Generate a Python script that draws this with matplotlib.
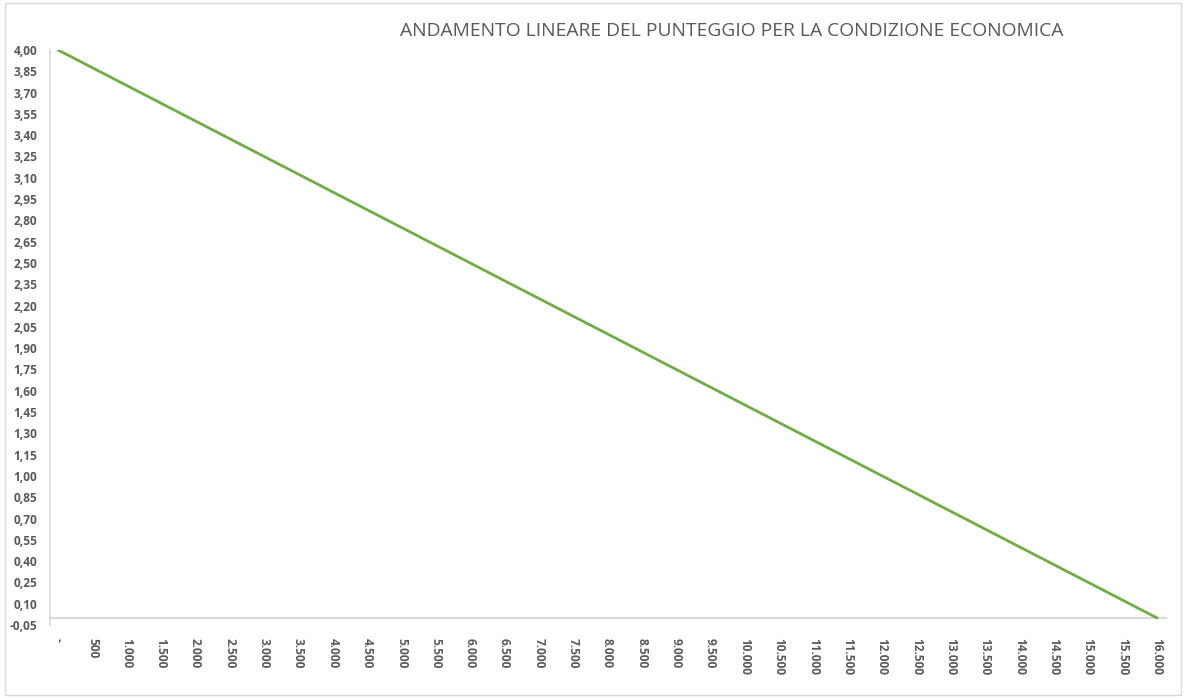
import matplotlib
matplotlib.use("Agg")
import matplotlib.pyplot as plt
from matplotlib.patches import Rectangle
import numpy as np

# Data
reddito = [0, 500, 1000, 1500, 2000, 2500, 3000, 3500, 4000, 4500, 5000, 5500,
           6000, 6500, 7000, 7500, 8000, 8500, 9000, 9500, 10000, 10500, 11000,
           11500, 12000, 12500, 13000, 13500, 14000, 14500, 15000, 15500, 16000]
punteggio = [4.000, 3.875, 3.750, 3.625, 3.500, 3.375, 3.250, 3.125, 3.000,
             2.875, 2.750, 2.625, 2.500, 2.375, 2.250, 2.125, 2.000, 1.875,
             1.750, 1.625, 1.500, 1.375, 1.250, 1.125, 1.000, 0.875, 0.750,
             0.625, 0.500, 0.375, 0.250, 0.125, 0.000]
x_labels = ["-", "500", "1.000", "1.500", "2.000", "2.500", "3.000", "3.500",
            "4.000", "4.500", "5.000", "5.500", "6.000", "6.500", "7.000",
            "7.500", "8.000", "8.500", "9.000", "9.500", "10.000", "10.500",
            "11.000", "11.500", "12.000", "12.500", "13.000", "13.500",
            "14.000", "14.500", "15.000", "15.500", "16.000"]
y_ticks = [-0.05, 0.10, 0.25, 0.40, 0.55, 0.70, 0.85, 1.00, 1.15, 1.30, 1.45,
           1.60, 1.75, 1.90, 2.05, 2.20, 2.35, 2.50, 2.65, 2.80, 2.95, 3.10,
           3.25, 3.40, 3.55, 3.70, 3.85, 4.00]
y_labels = [f"{v:.2f}".replace(".", ",") for v in y_ticks]
title = "ANDAMENTO LINEARE DEL PUNTEGGIO PER LA CONDIZIONE ECONOMICA"

W, H = 1187, 698
fig = plt.figure(figsize=(W / 100, H / 100), dpi=100)
fig.patch.set_facecolor("white")

# outer chart border
fig.patches.append(Rectangle((5 / W, 3 / H), (1181 - 5) / W, (695 - 3) / H,
                             transform=fig.transFigure, fill=False,
                             edgecolor="#d9d9d9", linewidth=1))

left, right, top, bottom = 50, 1167, 50, 625
ax = fig.add_axes([left / W, (H - bottom) / H, (right - left) / W, (bottom - top) / H])

ax.plot(reddito, punteggio, color="#70AD47", linewidth=2.0, solid_capstyle="round")

ax.set_ylim(-0.05, 4.00)
ax.set_xlim(-117, 16146)
ax.set_yticks(y_ticks)
ax.set_yticklabels(y_labels)
ax.set_xticks(reddito)
ax.set_xticklabels(x_labels, rotation=-90, va="top", ha="center")

for s in ["top", "right", "bottom"]:
    ax.spines[s].set_visible(False)
ax.spines["left"].set_color("#d9d9d9")
ax.spines["left"].set_linewidth(1.2)
ax.axhline(0, color="#d9d9d9", linewidth=1.5, zorder=0)

ax.tick_params(axis="both", length=0, colors="#595959")
ax.tick_params(axis="y", pad=9)
ax.tick_params(axis="x", pad=9)
for lab in ax.get_yticklabels() + ax.get_xticklabels():
    lab.set_fontfamily("Open Sans")
    lab.set_fontweight("bold")
    lab.set_fontsize(8.6)
    lab.set_color("#595959")

fig.text(732 / W, (H - 31) / H, title, ha="center", va="center",
         fontsize=13.9, color="#595959", fontfamily="Open Sans")

fig.savefig("out.png", dpi=100)
